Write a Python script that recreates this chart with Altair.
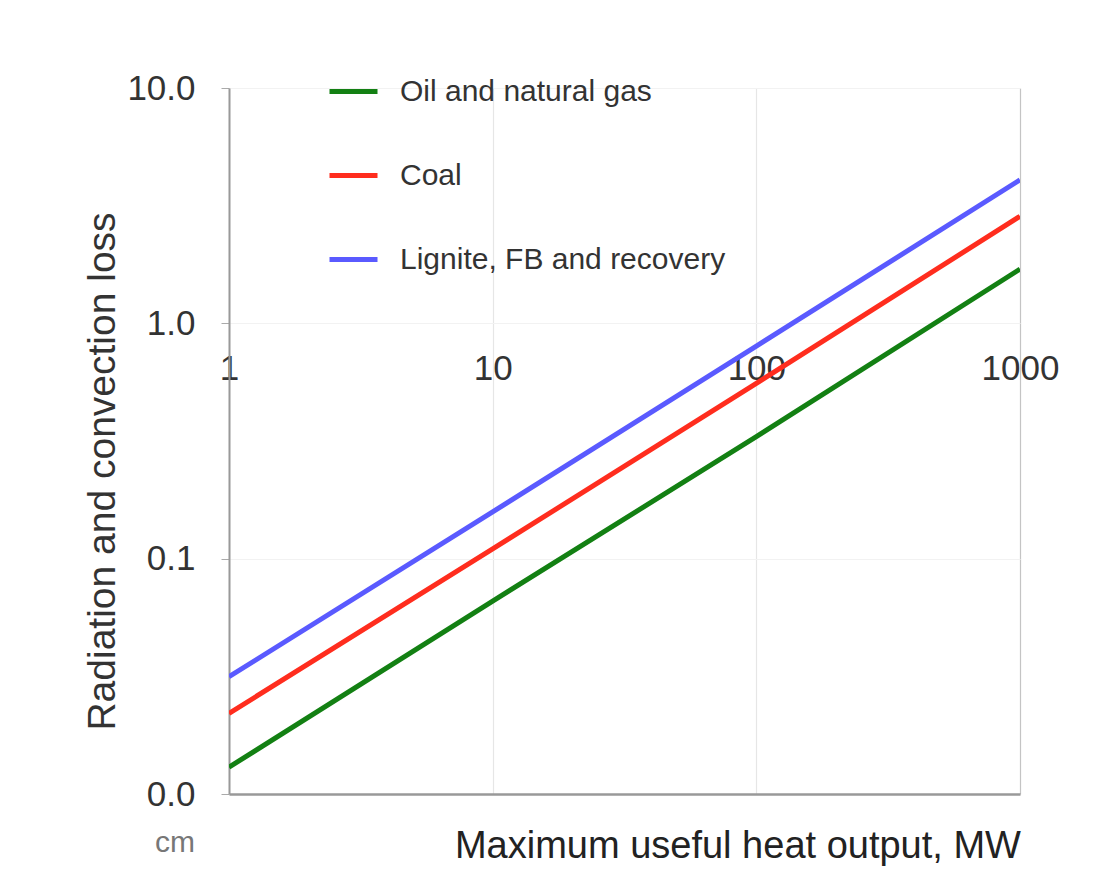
import altair as alt
import pandas as pd

# Data (log-log straight lines)
mw = [1, 10, 100, 1000]
fuels = ["Oil and natural gas", "Coal", "Lignite, FB and recovery"]
oil_gas = [0.013, 0.066, 0.33, 1.7]
coal = [0.022, 0.110, 0.556, 2.85]
lignite = [0.0315, 0.158, 0.80, 4.07]
colors = ["#138013", "#ff2d1e", "#5a5aff"]
x_ticks = [1, 10, 100, 1000]
y_ticks = [0.01, 0.1, 1, 10]

rows = []
for name, vals in zip(fuels, [oil_gas, coal, lignite]):
    for x, v in zip(mw, vals):
        rows.append({"mw": x, "loss": v, "fuel": name})
df = pd.DataFrame(rows)

FONT = "Liberation Sans"

lines = alt.Chart(df).mark_line(strokeWidth=5, clip=True).encode(
    x=alt.X(
        "mw:Q",
        scale=alt.Scale(type="log", domain=[1, 1000]),
        axis=alt.Axis(
            orient="top", values=x_ticks, format="d", offset=-298,
            domain=False, ticks=False, tickSize=0, labelPadding=0,
            labelFontSize=35, labelColor="#333", labelFont=FONT,
            labelFlush=False, title=None, grid=True,
            gridColor={"condition": {"test": "datum.value > 999", "value": "#c4c4c4"}, "value": "#e6e6e6"},
            gridWidth=1.2,
        ),
    ),
    y=alt.Y(
        "loss:Q",
        scale=alt.Scale(type="log", domain=[0.01, 10]),
        axis=alt.Axis(
            values=y_ticks, format=".1f", domain=True, domainColor="#999",
            domainWidth=2, ticks=True, tickSize=8, tickColor="#aaa",
            labelPadding=26, labelFontSize=35, labelColor="#333", labelFont=FONT,
            labelFlush=False, title="Radiation and convection loss",
            titleFontSize=39, titleFont=FONT, titleFontWeight="normal",
            titleColor="#333", titlePadding=4, titleY=383, grid=True,
            gridColor={"condition": {"test": "datum.value < 0.011", "value": "#999"}, "value": "#f2f2f2"},
            gridWidth={"condition": {"test": "datum.value < 0.011", "value": 2.5}, "value": 1},
        ),
    ),
    color=alt.Color(
        "fuel:N",
        scale=alt.Scale(domain=fuels, range=colors),
        legend=alt.Legend(
            orient="none", legendX=98, legendY=-23, title=None,
            symbolType="stroke", symbolStrokeWidth=5, symbolSize=2304,
            labelFontSize=30, labelFont=FONT, labelColor="#333",
            labelOffset=20, rowPadding=42, padding=0, labelLimit=500,
        ),
    ),
)

cm = alt.Chart(pd.DataFrame({"t": ["cm"]})).mark_text(
    fontSize=30, font=FONT, color="#777", align="center", baseline="middle"
).encode(x=alt.value(-54), y=alt.value(755), text="t:N")

chart = alt.layer(lines, cm).properties(
    width=791,
    height=706,
    padding={"left": 221, "top": 80, "right": 68, "bottom": 87},
    autosize=alt.AutoSizeParams(type="none"),
    background="white",
    title=alt.TitleParams(
        "Maximum useful heat output, MW", orient="bottom", anchor="end",
        fontSize=38, font=FONT, fontWeight="normal", color="#222",
        offset=-30, dx=-38,
    ),
).configure_view(stroke=None)

chart.save("out.html", embed_options={"renderer": "svg", "actions": False})
